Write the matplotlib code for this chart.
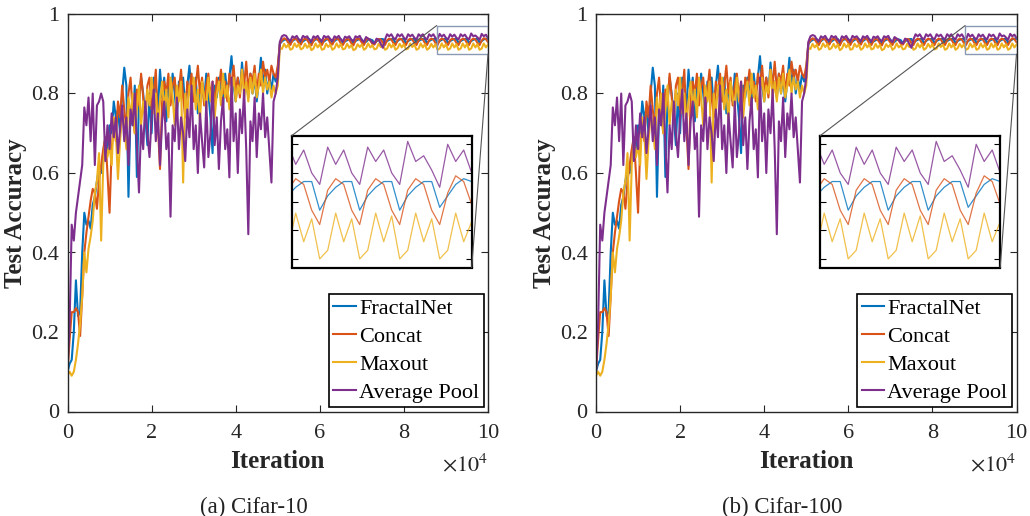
import numpy as np
import matplotlib
matplotlib.use('Agg')
import matplotlib.pyplot as plt
from matplotlib.patches import Rectangle, ConnectionPatch

plt.rcParams['font.family'] = ['Liberation Serif', 'DejaVu Serif']
plt.rcParams['mathtext.fontset'] = 'stix'

# ---------------- data ----------------
iterations = np.arange(0, 100001, 500)

fractalnet_early = [0.10, 0.12, 0.13, 0.20, 0.33, 0.24, 0.25, 0.40, 0.50, 0.47,
                    0.48, 0.46, 0.52, 0.54, 0.58, 0.61, 0.60, 0.65, 0.69, 0.66,
                    0.72, 0.70, 0.78, 0.74, 0.76, 0.70, 0.80, 0.865, 0.82, 0.54,
                    0.76, 0.72, 0.82, 0.59, 0.78, 0.84, 0.80, 0.74, 0.67, 0.80,
                    0.70, 0.84, 0.82, 0.76, 0.86, 0.79, 0.84, 0.73, 0.82, 0.78,
                    0.85, 0.80, 0.74, 0.83, 0.79, 0.84, 0.76, 0.82, 0.87, 0.80,
                    0.78, 0.84, 0.75, 0.81, 0.83, 0.78, 0.85, 0.80, 0.74, 0.65,
                    0.82, 0.79, 0.84, 0.81, 0.77, 0.85, 0.80, 0.84, 0.894, 0.82,
                    0.78, 0.84, 0.80, 0.878, 0.81, 0.83, 0.79, 0.85, 0.80, 0.84,
                    0.78, 0.83, 0.89, 0.82, 0.86, 0.80, 0.84, 0.81, 0.85, 0.83,
                    0.86]
fractalnet_late = [0.925, 0.931, 0.935, 0.936, 0.937, 0.927, 0.932, 0.936, 0.937, 0.936,
                   0.928, 0.931, 0.935, 0.937, 0.937, 0.926, 0.932, 0.936, 0.936, 0.937,
                   0.927, 0.931, 0.935, 0.937, 0.936, 0.928, 0.932, 0.936, 0.937, 0.937,
                   0.927, 0.931, 0.934, 0.936, 0.936, 0.926, 0.932, 0.935, 0.937, 0.936,
                   0.927, 0.930, 0.935, 0.936, 0.934, 0.926, 0.931, 0.935, 0.937, 0.937,
                   0.927, 0.932, 0.935, 0.937, 0.937, 0.927, 0.932, 0.936, 0.937, 0.937,
                   0.927, 0.932, 0.935, 0.937, 0.937, 0.927, 0.932, 0.935, 0.937, 0.937,
                   0.927, 0.932, 0.935, 0.937, 0.937, 0.927, 0.932, 0.935, 0.937, 0.937,
                   0.927, 0.932, 0.935, 0.937, 0.937, 0.927, 0.932, 0.935, 0.937, 0.937,
                   0.927, 0.932, 0.935, 0.937, 0.937, 0.928, 0.932, 0.936, 0.938, 0.937]

concat_early = [0.10, 0.18, 0.25, 0.25, 0.26, 0.25, 0.19, 0.29, 0.40, 0.45,
                0.49, 0.53, 0.56, 0.55, 0.51, 0.58, 0.62, 0.66, 0.69, 0.60,
                0.50, 0.66, 0.72, 0.68, 0.78, 0.74, 0.82, 0.76, 0.71, 0.80,
                0.84, 0.75, 0.70, 0.81, 0.77, 0.85, 0.79, 0.73, 0.82, 0.84,
                0.76, 0.80, 0.86, 0.72, 0.61, 0.78, 0.83, 0.80, 0.85, 0.77,
                0.82, 0.84, 0.76, 0.81, 0.86, 0.79, 0.74, 0.83, 0.80, 0.85,
                0.78, 0.82, 0.87, 0.80, 0.84, 0.77, 0.82, 0.85, 0.79, 0.83,
                0.76, 0.84, 0.81, 0.86, 0.80, 0.83, 0.78, 0.85, 0.82, 0.87,
                0.80, 0.84, 0.79, 0.86, 0.82, 0.88, 0.81, 0.85, 0.83, 0.87,
                0.80, 0.85, 0.82, 0.88, 0.84, 0.86, 0.83, 0.87, 0.85, 0.84,
                0.87]
concat_late = [0.926, 0.934, 0.939, 0.936, 0.928, 0.922, 0.934, 0.938, 0.936, 0.927,
               0.923, 0.935, 0.938, 0.935, 0.926, 0.921, 0.933, 0.939, 0.936, 0.928,
               0.922, 0.934, 0.938, 0.937, 0.927, 0.923, 0.935, 0.939, 0.936, 0.926,
               0.922, 0.933, 0.938, 0.935, 0.927, 0.921, 0.934, 0.939, 0.936, 0.928,
               0.922, 0.935, 0.938, 0.933, 0.925, 0.923, 0.933, 0.937, 0.936, 0.927,
               0.922, 0.934, 0.938, 0.936, 0.927, 0.922, 0.934, 0.938, 0.936, 0.927,
               0.922, 0.934, 0.938, 0.936, 0.927, 0.922, 0.934, 0.938, 0.936, 0.927,
               0.922, 0.934, 0.938, 0.936, 0.927, 0.922, 0.934, 0.938, 0.936, 0.927,
               0.922, 0.934, 0.938, 0.936, 0.927, 0.922, 0.934, 0.938, 0.936, 0.927,
               0.922, 0.934, 0.938, 0.936, 0.927, 0.922, 0.933, 0.939, 0.937, 0.929]

maxout_early = [0.09, 0.10, 0.09, 0.10, 0.13, 0.17, 0.22, 0.29, 0.40, 0.35,
                0.41, 0.44, 0.48, 0.55, 0.58, 0.65, 0.43, 0.62, 0.68, 0.64,
                0.67, 0.62, 0.74, 0.70, 0.585, 0.68, 0.75, 0.72, 0.66, 0.79,
                0.74, 0.80, 0.70, 0.76, 0.82, 0.72, 0.78, 0.74, 0.81, 0.77,
                0.84, 0.75, 0.80, 0.72, 0.78, 0.83, 0.76, 0.81, 0.74, 0.84,
                0.79, 0.72, 0.82, 0.78, 0.83, 0.576, 0.80, 0.75, 0.82, 0.78,
                0.84, 0.76, 0.81, 0.73, 0.83, 0.79, 0.76, 0.84, 0.78, 0.82,
                0.74, 0.80, 0.83, 0.77, 0.85, 0.79, 0.82, 0.76, 0.81, 0.84,
                0.78, 0.82, 0.80, 0.86, 0.79, 0.83, 0.78, 0.84, 0.80, 0.85,
                0.79, 0.82, 0.86, 0.80, 0.84, 0.81, 0.83, 0.79, 0.82, 0.80,
                0.82]
maxout_late = [0.915, 0.912, 0.925, 0.916, 0.923, 0.910, 0.913, 0.926, 0.917, 0.924,
               0.911, 0.914, 0.925, 0.915, 0.923, 0.909, 0.913, 0.926, 0.916, 0.924,
               0.910, 0.912, 0.925, 0.917, 0.923, 0.910, 0.914, 0.926, 0.916, 0.924,
               0.911, 0.913, 0.925, 0.915, 0.922, 0.909, 0.912, 0.924, 0.917, 0.923,
               0.910, 0.914, 0.926, 0.916, 0.921, 0.911, 0.913, 0.925, 0.917, 0.924,
               0.910, 0.913, 0.926, 0.916, 0.924, 0.910, 0.914, 0.925, 0.916, 0.924,
               0.911, 0.913, 0.926, 0.917, 0.923, 0.910, 0.913, 0.926, 0.916, 0.924,
               0.910, 0.914, 0.925, 0.916, 0.924, 0.910, 0.913, 0.926, 0.916, 0.924,
               0.910, 0.913, 0.926, 0.916, 0.924, 0.910, 0.913, 0.926, 0.916, 0.925,
               0.910, 0.913, 0.926, 0.916, 0.924, 0.910, 0.913, 0.926, 0.916, 0.923]

avgpool_early = [0.10, 0.22, 0.47, 0.43, 0.50, 0.54, 0.58, 0.62, 0.765, 0.72,
                 0.79, 0.68, 0.80, 0.62, 0.77, 0.78, 0.80, 0.78, 0.63, 0.72,
                 0.66, 0.75, 0.69, 0.74, 0.65, 0.71, 0.77, 0.68, 0.74, 0.62,
                 0.76, 0.72, 0.80, 0.67, 0.551, 0.72, 0.66, 0.78, 0.70, 0.64,
                 0.74, 0.81, 0.68, 0.75, 0.62, 0.73, 0.78, 0.66, 0.70, 0.49,
                 0.72, 0.68, 0.79, 0.66, 0.74, 0.70, 0.63, 0.76, 0.69, 0.82,
                 0.66, 0.72, 0.60, 0.75, 0.68, 0.614, 0.78, 0.64, 0.70, 0.83,
                 0.67, 0.74, 0.61, 0.73, 0.79, 0.66, 0.71, 0.589, 0.84, 0.68,
                 0.75, 0.60, 0.76, 0.70, 0.81, 0.66, 0.446, 0.73, 0.68, 0.79,
                 0.64, 0.75, 0.71, 0.80, 0.69, 0.74, 0.66, 0.576, 0.78, 0.80,
                 0.84]
avgpool_late = [0.930, 0.944, 0.947, 0.945, 0.936, 0.932, 0.944, 0.940, 0.945, 0.936,
                0.933, 0.945, 0.941, 0.944, 0.935, 0.931, 0.944, 0.940, 0.945, 0.936,
                0.932, 0.945, 0.941, 0.944, 0.937, 0.932, 0.944, 0.940, 0.945, 0.936,
                0.931, 0.943, 0.940, 0.944, 0.935, 0.932, 0.944, 0.941, 0.945, 0.934,
                0.930, 0.942, 0.938, 0.935, 0.928, 0.926, 0.938, 0.935, 0.925, 0.915,
                0.936, 0.949, 0.944, 0.949, 0.940, 0.936, 0.949, 0.944, 0.949, 0.940,
                0.936, 0.949, 0.944, 0.948, 0.940, 0.936, 0.949, 0.944, 0.949, 0.940,
                0.936, 0.949, 0.944, 0.949, 0.940, 0.936, 0.950, 0.943, 0.948, 0.940,
                0.936, 0.949, 0.943, 0.948, 0.940, 0.936, 0.949, 0.944, 0.948, 0.940,
                0.936, 0.951, 0.944, 0.946, 0.941, 0.935, 0.950, 0.944, 0.948, 0.940]

series_names = ['FractalNet', 'Concat', 'Maxout', 'Average Pool']
series_values = [fractalnet_early + fractalnet_late,
                 concat_early + concat_late,
                 maxout_early + maxout_late,
                 avgpool_early + avgpool_late]
colors = ['#0072BD', '#D95319', '#EDB120', '#7E2F8E']

xtick_vals = [0, 20000, 40000, 60000, 80000, 100000]
xtick_labels = ['0', '2', '4', '6', '8', '10']
ytick_vals = [0, 0.2, 0.4, 0.6, 0.8, 1.0]
ytick_labels = ['0', '0.2', '0.4', '0.6', '0.8', '1']
captions = ['(a) Cifar-10', '(b) Cifar-100']

# zoom region
zoom_x = (87800, 100000)
zoom_y = (0.899, 0.971)
inset_xlim = (88750, 100000)
inset_ylim = (0.907, 0.953)
inset_yticks = [0.91, 0.92, 0.93, 0.94, 0.95]

# ---------------- figure ----------------
W, H = 1030, 516
fig = plt.figure(figsize=(W / 100, H / 100), dpi=100)

axis_color = '#262626'

def px_rect(x0, y0, x1, y1):
    return [x0 / W, (H - y1) / H, (x1 - x0) / W, (y1 - y0) / H]

panel_offsets = [0, 528.5]
for p, off in enumerate(panel_offsets):
    ax = fig.add_axes(px_rect(67.5 + off, 14, 488 + off, 411.5))
    for name, vals, c in zip(series_names, series_values, colors):
        ax.plot(iterations, vals, color=c, lw=1.5, label=name)
    ax.set_xlim(0, 100000)
    ax.set_ylim(0, 1)
    ax.set_xticks(xtick_vals)
    ax.set_xticklabels(xtick_labels)
    ax.set_yticks(ytick_vals)
    ax.set_yticklabels(ytick_labels)
    ax.tick_params(direction='in', length=5, width=0.8, top=True, right=True,
                   labelsize=16, colors=axis_color)
    ax.tick_params(axis='x', pad=9)
    ax.tick_params(axis='y', pad=6)
    for s in ax.spines.values():
        s.set_color(axis_color)
        s.set_linewidth(1.0)
    ax.set_xlabel('Iteration', fontsize=18, fontweight='bold', color=axis_color, labelpad=5)
    ax.set_ylabel('Test Accuracy', fontsize=18, fontweight='bold', color=axis_color, labelpad=3)
    ax.text(1.0, -0.135, r'$\times10^{4}$', transform=ax.transAxes, ha='right', va='center',
            fontsize=16, color=axis_color)

    leg = ax.legend(loc='lower right', fontsize=16, frameon=True, fancybox=False,
                    edgecolor='black', framealpha=1, borderaxespad=0.2,
                    handlelength=1.0, handletextpad=0.15, borderpad=0.2,
                    labelspacing=0.33)
    leg.get_frame().set_linewidth(1.2)

    # zoom box
    ax.add_patch(Rectangle((zoom_x[0], zoom_y[0]), zoom_x[1] - zoom_x[0], zoom_y[1] - zoom_y[0],
                           fill=False, edgecolor='#8a9ab5', lw=1.0, zorder=5))

    axins = fig.add_axes(px_rect(291.7 + off, 135.7, 471.7 + off, 267.5))
    for vals, c in zip(series_values, colors):
        axins.plot(iterations, vals, color=c, lw=0.9, alpha=0.8)
    axins.set_xlim(*inset_xlim)
    axins.set_ylim(*inset_ylim)
    axins.set_xticks([])
    axins.set_yticks(inset_yticks)
    axins.set_yticklabels([])
    axins.tick_params(direction='in', length=4, width=0.8, left=True, right=True)
    for s in axins.spines.values():
        s.set_color('black')
        s.set_linewidth(1.6)

    con1 = ConnectionPatch(xyA=(zoom_x[0], zoom_y[1]), coordsA=ax.transData,
                           xyB=(0, 1), coordsB=axins.transAxes,
                           color='#555555', lw=0.8)
    con2 = ConnectionPatch(xyA=(zoom_x[1], zoom_y[0]), coordsA=ax.transData,
                           xyB=(1, 0), coordsB=axins.transAxes,
                           color='#555555', lw=0.8)
    fig.add_artist(con1)
    fig.add_artist(con2)

    fig.text((253.5 + off) / W, 1 - 507 / H, captions[p], ha='center', va='center',
             fontsize=16.5, color='#222222')

fig.savefig('out.png', dpi=100)
